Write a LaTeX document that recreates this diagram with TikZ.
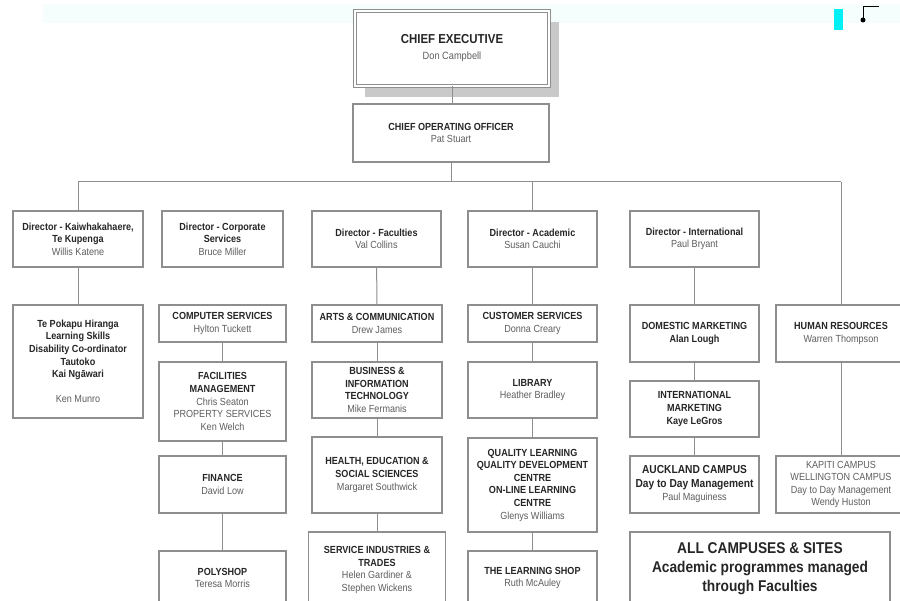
\documentclass[tikz,border=0pt]{standalone}
\usepackage{fontspec}
\setmainfont{Liberation Sans}[FakeStretch=0.88]
\usepackage{xcolor}
\usepackage{tikz}
\usetikzlibrary{shadows}
\definecolor{boxgray}{HTML}{8E8E8E}
\definecolor{linegray}{HTML}{8E8E8E}
\definecolor{titlegray}{HTML}{262626}
\definecolor{namegray}{HTML}{5E5E5E}
\definecolor{shadowgray}{HTML}{C9C9C9}
\definecolor{bandcyan}{RGB}{245,253,253}
\definecolor{markcyan}{RGB}{0,240,245}
\newcommand{\bhd}[1]{\textbf{\textcolor{titlegray}{#1}}}

\begin{document}
\begin{tikzpicture}[
    x=1pt, y=-1pt,
    unit/.style={rectangle, draw=boxgray, line width=1.2pt, fill=white, align=center, inner sep=2pt, text=namegray, font=\fontsize{10.3}{12.6}\selectfont},
    dirbox/.style={unit, minimum width=129pt, minimum height=56pt},
    link/.style={draw=linegray, line width=1pt}
]
    \useasboundingbox (0,0) rectangle (900,601);
    \clip (0,0) rectangle (900,601);
    \fill[bandcyan] (43,4) rectangle (900,23);
    \fill[markcyan] (834,9) rectangle (843,30);
    \fill (863,20) circle (2.5);
    \draw[line width=0.8pt] (863,20) -- (863,6) -- (879,6);

    \node[unit, minimum width=194pt, minimum height=75pt, line width=0.9pt, double=white, double distance=1.4pt, font=\fontsize{10.5}{16}\selectfont, drop shadow={shadow xshift=10pt, shadow yshift=-11pt, fill=shadowgray, opacity=1}] (CE) at (452,48.5) {{\fontsize{13}{16}\selectfont\bhd{CHIEF EXECUTIVE}}\\Don Campbell};
    \node[unit, minimum width=196pt, minimum height=58pt] (COO) at (451,133) {\bhd{CHIEF OPERATING OFFICER}\\Pat Stuart};

    \node[dirbox, minimum width=130pt] (D_KAI) at (78,239) {\bhd{Director - Kaiwhakahaere,}\\\bhd{Te Kupenga}\\Willis Katene};
    \node[dirbox, minimum width=121pt] (D_CORP) at (222.5,239) {\bhd{Director - Corporate}\\\bhd{Services}\\Bruce Miller};
    \node[dirbox] (D_FAC) at (376.5,239) {\bhd{Director - Faculties}\\Val Collins};
    \node[dirbox] (D_ACAD) at (532.5,239) {\bhd{Director - Academic}\\Susan Cauchi};
    \node[dirbox] (D_INTL) at (694.5,239) {\bhd{Director - International}\\Paul Bryant};

    \node[unit, minimum width=130pt, minimum height=113pt] (POKAPU) at (78,361.5) {\bhd{Te Pokapu Hiranga}\\\bhd{Learning Skills}\\\bhd{Disability Co-ordinator}\\\bhd{Tautoko}\\\bhd{Kai Ngāwari}\\[12.6pt]Ken Munro};

    \node[unit, minimum width=127pt, minimum height=37pt] (COMP) at (222.5,323.5) {\bhd{COMPUTER SERVICES}\\Hylton Tuckett};
    \node[unit, minimum width=127pt, minimum height=79pt] (FACIL) at (222.5,401.5) {\bhd{FACILITIES}\\\bhd{MANAGEMENT}\\Chris Seaton\\PROPERTY SERVICES\\Ken Welch};
    \node[unit, minimum width=127pt, minimum height=57pt] (FIN) at (222.5,484.5) {\bhd{FINANCE}\\David Low};
    \node[unit, minimum width=127pt, minimum height=54pt] (POLY) at (222.5,578) {\bhd{POLYSHOP}\\Teresa Morris};

    \node[unit, minimum width=130pt, minimum height=37pt] (ARTS) at (377,323.5) {\bhd{ARTS \& COMMUNICATION}\\Drew James};
    \node[unit, minimum width=130pt, minimum height=56pt] (BUS) at (377,390) {\bhd{BUSINESS \&}\\\bhd{INFORMATION}\\\bhd{TECHNOLOGY}\\Mike Fermanis};
    \node[unit, minimum width=130pt, minimum height=76pt] (HEALTH) at (377,475) {\bhd{HEALTH, EDUCATION \&}\\\bhd{SOCIAL SCIENCES}\\Margaret Southwick};
    \node[unit, minimum width=137pt, minimum height=76pt] (SERV) at (377,570) {\bhd{SERVICE INDUSTRIES \&}\\\bhd{TRADES}\\Helen Gardiner \&\\Stephen Wickens};

    \node[unit, minimum width=129pt, minimum height=37pt] (CUST) at (532.5,323.5) {\bhd{CUSTOMER SERVICES}\\Donna Creary};
    \node[unit, minimum width=129pt, minimum height=56pt] (LIB) at (532.5,390) {\bhd{LIBRARY}\\Heather Bradley};
    \node[unit, minimum width=129pt, minimum height=94pt] (QUAL) at (532.5,485) {\bhd{QUALITY LEARNING}\\\bhd{QUALITY DEVELOPMENT}\\\bhd{CENTRE}\\\bhd{ON-LINE LEARNING}\\\bhd{CENTRE}\\Glenys Williams};
    \node[unit, minimum width=129pt, minimum height=54pt] (SHOP) at (532.5,578) {\bhd{THE LEARNING SHOP}\\Ruth McAuley};

    \node[unit, minimum width=129pt, minimum height=57pt] (DOM) at (694.5,333.5) {\bhd{DOMESTIC MARKETING}\\\bhd{Alan Lough}};
    \node[unit, minimum width=129pt, minimum height=56pt] (INTLM) at (694.5,409) {\bhd{INTERNATIONAL}\\\bhd{MARKETING}\\\bhd{Kaye LeGros}};
    \node[unit, minimum width=129pt, minimum height=57pt, font=\fontsize{11.6}{13.5}\selectfont] (AUCK) at (694.5,484.5) {\bhd{AUCKLAND CAMPUS}\\\bhd{Day to Day Management}\\{\fontsize{10.3}{13.5}\selectfont Paul Maguiness}};

    \node[unit, minimum width=130pt, minimum height=57pt] (HR) at (841,333.5) {\bhd{HUMAN RESOURCES}\\Warren Thompson};
    \node[unit, minimum width=130pt, minimum height=57pt] (KAPITI) at (841,484.5) {KAPITI CAMPUS\\WELLINGTON CAMPUS\\Day to Day Management\\Wendy Huston};

    \node[unit, minimum width=260pt, minimum height=74pt, font=\fontsize{15.6}{19}\selectfont] (ALL) at (760,569) {\bhd{ALL CAMPUSES \& SITES}\\\bhd{Academic programmes managed}\\\bhd{through Faculties}};

    \coordinate (BAR_L) at (78,182);
    \coordinate (BAR_R) at (841,182);

    \draw[link] (CE) -- (CE |- COO.north);
    \draw[link] (COO) -- (COO |- BAR_L);
    \draw[link] (BAR_L) -- (BAR_R);
    \draw[link] (BAR_L) -- (D_KAI);
    \draw[link] (D_ACAD |- BAR_L) -- (D_ACAD);
    \draw[link] (BAR_R) -- (HR);
    \draw[link] (D_KAI) -- (POKAPU);
    \draw[link] (COMP) -- (FACIL);
    \draw[link] (FACIL) -- (FIN);
    \draw[link] (FIN) -- (POLY);
    \draw[link] (D_FAC) -- (ARTS);
    \draw[link] (ARTS) -- (BUS);
    \draw[link] (BUS) -- (HEALTH);
    \draw[link] (HEALTH) -- (SERV);
    \draw[link] (D_ACAD) -- (CUST);
    \draw[link] (CUST) -- (LIB);
    \draw[link] (LIB) -- (QUAL);
    \draw[link] (QUAL) -- (SHOP);
    \draw[link] (D_INTL) -- (DOM);
    \draw[link] (DOM) -- (INTLM);
    \draw[link] (INTLM) -- (AUCK);
    \draw[link] (HR) -- (KAPITI);
\end{tikzpicture}
\end{document}
